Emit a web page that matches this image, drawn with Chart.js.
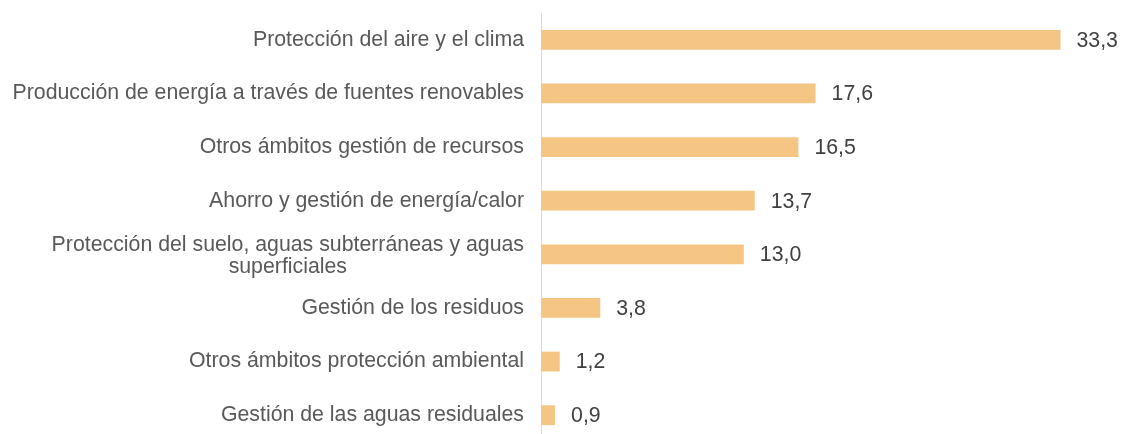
<!DOCTYPE html>
<html>
<head>
<meta charset="utf-8">
<script src="https://cdn.jsdelivr.net/npm/chart.js@4/dist/chart.umd.min.js"></script>
<style>
html, body { margin: 0; padding: 0; background: #fff; overflow: hidden; }
#wrap { width: 1125px; height: 442px; }
</style>
</head>
<body>
<div id="wrap"><canvas id="chart"></canvas></div>
<script>
var categories = [
	"Protección del aire y el clima",
	"Producción de energía a través de fuentes renovables",
	"Otros ámbitos gestión de recursos",
	"Ahorro y gestión de energía/calor",
	["Protección del suelo, aguas subterráneas y aguas", "superficiales"],
	"Gestión de los residuos",
	"Otros ámbitos protección ambiental",
	"Gestión de las aguas residuales"
];
var values = [33.3, 17.6, 16.5, 13.7, 13.0, 3.8, 1.2, 0.9];

var textColor = '#595959';
var font = '21.3px "Liberation Sans", Arial, sans-serif';

// category labels: single lines right aligned, wrapped lines centred on each other
var labelPlugin = {
	id: 'labelPlugin',
	afterDraw: function(chart) {
		var ctx = chart.ctx;
		var yScale = chart.scales.y;
		var right = chart.chartArea.left - 17;
		ctx.save();
		ctx.font = font;
		ctx.fillStyle = textColor;
		ctx.textBaseline = 'middle';
		categories.forEach(function(lab, i) {
			var y = yScale.getPixelForValue(i);
			if (Array.isArray(lab)) {
				var w = Math.max.apply(null, lab.map(function(l){ return ctx.measureText(l).width; }));
				var cx = right - w / 2;
				var lh = 22;
				ctx.textAlign = 'center';
				lab.forEach(function(l, j) {
					ctx.fillText(l, cx, y + 2 + (j - (lab.length - 1) / 2) * lh);
				});
			} else {
				ctx.textAlign = 'right';
				ctx.fillText(lab, right, y);
			}
		});
		// value labels
		var meta = chart.getDatasetMeta(0);
		ctx.textAlign = 'left';
		ctx.fillStyle = '#404040';
		meta.data.forEach(function(bar, i) {
			ctx.fillText(values[i].toFixed(1).replace('.', ','), bar.x + 16, bar.y + 1);
		});
		ctx.restore();
	}
};

new Chart(document.getElementById('chart'), {
	type: 'bar',
	data: {
		labels: categories,
		datasets: [{
			data: values,
			backgroundColor: '#F5C584',
			barPercentage: 0.37,
			categoryPercentage: 1
		}]
	},
	options: {
		indexAxis: 'y',
		responsive: true,
		maintainAspectRatio: false,
		animation: false,
		layout: { padding: { left: 541, right: 38, top: 13, bottom: 0 } },
		plugins: { legend: { display: false }, tooltip: { enabled: false } },
		scales: {
			x: {
				min: 0, max: 35,
				display: false
			},
			y: {
				ticks: { display: false },
				grid: { display: false },
				border: { display: true, color: '#d9d9d9', width: 1 },
				afterFit: function(s) { s.width = 0; }
			}
		}
	},
	plugins: [labelPlugin]
});
</script>
</body>
</html>
